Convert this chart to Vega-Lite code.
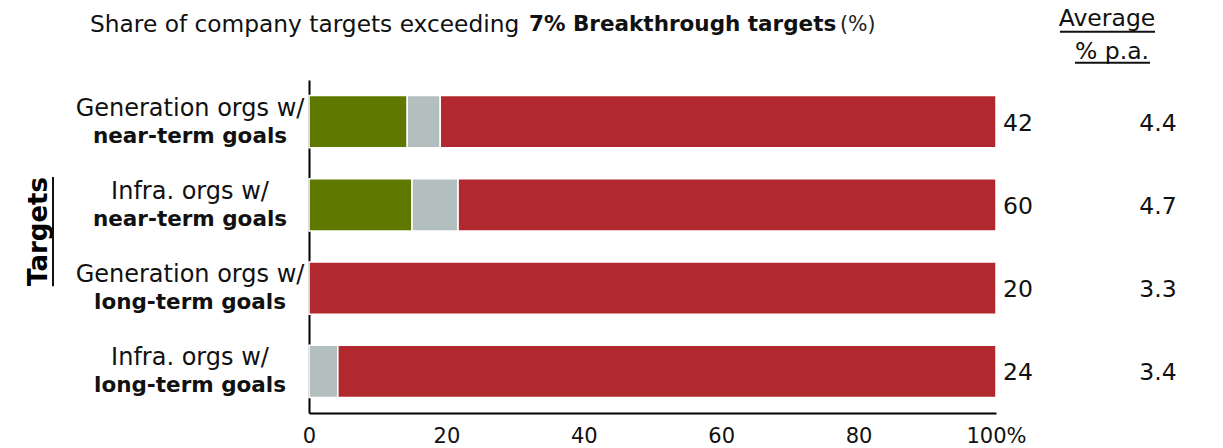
{
  "$schema": "https://vega.github.io/schema/vega-lite/v6.json",
  "width": 687,
  "height": 333,
  "autosize": {"type": "none"},
  "padding": {"left": 309, "top": 80, "right": 227, "bottom": 35},
  "background": "white",
  "config": {
    "view": {"stroke": null},
    "font": "DejaVu Sans",
    "text": {"font": "DejaVu Sans", "fontSize": 23.5, "color": "#111111"}
  },
  "datasets": {
    "segments": [
      {"target": "Generation orgs w/ near-term goals", "segment": "Exceeding 7%", "k": 1, "share": 14.3},
      {"target": "Generation orgs w/ near-term goals", "segment": "Around 7%", "k": 2, "share": 4.8},
      {"target": "Generation orgs w/ near-term goals", "segment": "Below 7%", "k": 3, "share": 80.9},
      {"target": "Infra. orgs w/ near-term goals", "segment": "Exceeding 7%", "k": 1, "share": 15.0},
      {"target": "Infra. orgs w/ near-term goals", "segment": "Around 7%", "k": 2, "share": 6.7},
      {"target": "Infra. orgs w/ near-term goals", "segment": "Below 7%", "k": 3, "share": 78.3},
      {"target": "Generation orgs w/ long-term goals", "segment": "Below 7%", "k": 3, "share": 100},
      {"target": "Infra. orgs w/ long-term goals", "segment": "Around 7%", "k": 2, "share": 4.2},
      {"target": "Infra. orgs w/ long-term goals", "segment": "Below 7%", "k": 3, "share": 95.8}
    ],
    "rows": [
      {"target": "Generation orgs w/ near-term goals", "line1": "Generation orgs w/", "line2": "near-term goals", "n": 42, "avg": 4.4},
      {"target": "Infra. orgs w/ near-term goals", "line1": "Infra. orgs w/", "line2": "near-term goals", "n": 60, "avg": 4.7},
      {"target": "Generation orgs w/ long-term goals", "line1": "Generation orgs w/", "line2": "long-term goals", "n": 20, "avg": 3.3},
      {"target": "Infra. orgs w/ long-term goals", "line1": "Infra. orgs w/", "line2": "long-term goals", "n": 24, "avg": 3.4}
    ],
    "header": [{"h": 1}]
  },
  "encoding": {
    "y": {
      "field": "target",
      "type": "nominal",
      "sort": ["Generation orgs w/ near-term goals", "Infra. orgs w/ near-term goals", "Generation orgs w/ long-term goals", "Infra. orgs w/ long-term goals"],
      "scale": {"paddingInner": 0.375, "paddingOuter": 0.1875},
      "axis": {
        "labels": false,
        "ticks": false,
        "domainColor": "#000000",
        "domainWidth": 2,
        "title": "Targets",
        "titleFont": "DejaVu Sans",
        "titleFontSize": 26,
        "titleFontWeight": "bold",
        "titleColor": "#000000",
        "titleAngle": -90,
        "titleAlign": "center",
        "titleBaseline": "middle",
        "titleX": -271,
        "titleY": 151
      }
    }
  },
  "layer": [
    {
      "data": {"name": "segments"},
      "mark": {"type": "bar", "stroke": "white", "strokeWidth": 1.5},
      "encoding": {
        "x": {
          "field": "share",
          "type": "quantitative",
          "stack": "zero",
          "scale": {"domain": [0, 100], "nice": false},
          "axis": {
            "values": [0, 20, 40, 60, 80, 100],
            "labelExpr": "datum.value == 100 ? '100%' : datum.label",
            "labelFlush": false,
            "labelFont": "DejaVu Sans",
            "labelFontSize": 21,
            "labelColor": "#111111",
            "labelPadding": 12,
            "ticks": false,
            "grid": false,
            "domainColor": "#000000",
            "domainWidth": 2,
            "title": null
          }
        },
        "order": {"field": "k", "type": "quantitative"},
        "color": {
          "field": "segment",
          "type": "nominal",
          "scale": {"domain": ["Exceeding 7%", "Around 7%", "Below 7%"], "range": ["#5e7800", "#b3bfbf", "#b2282f"]},
          "legend": null
        }
      }
    },
    {
      "data": {"name": "rows"},
      "mark": {"type": "text", "align": "center", "baseline": "middle", "dx": -119, "dy": -13, "fontSize": 24},
      "encoding": {"x": {"datum": 0}, "text": {"field": "line1"}}
    },
    {
      "data": {"name": "rows"},
      "mark": {"type": "text", "align": "center", "baseline": "middle", "dx": -119, "dy": 15, "fontWeight": "bold", "fontSize": 21.5},
      "encoding": {"x": {"datum": 0}, "text": {"field": "line2"}}
    },
    {
      "data": {"name": "rows"},
      "mark": {"type": "text", "align": "left", "baseline": "middle", "dx": 7, "dy": 2},
      "encoding": {"x": {"datum": 100}, "text": {"field": "n"}}
    },
    {
      "data": {"name": "rows"},
      "mark": {"type": "text", "align": "center", "baseline": "middle", "dx": 162, "dy": 2},
      "encoding": {"x": {"datum": 100}, "text": {"field": "avg", "format": ".1f"}}
    },
    {
      "data": {"name": "header"},
      "mark": {"type": "text", "align": "left", "baseline": "middle", "dx": -219, "dy": -97, "fontSize": 23.3},
      "encoding": {"x": {"datum": 0}, "y": {"datum": "Generation orgs w/ near-term goals"}, "text": {"value": "Share of company targets exceeding"}}
    },
    {
      "data": {"name": "header"},
      "mark": {"type": "text", "align": "left", "baseline": "middle", "dx": 220, "dy": -97, "fontWeight": "bold", "fontSize": 21.5},
      "encoding": {"x": {"datum": 0}, "y": {"datum": "Generation orgs w/ near-term goals"}, "text": {"value": "7% Breakthrough targets"}}
    },
    {
      "data": {"name": "header"},
      "mark": {"type": "text", "align": "left", "baseline": "middle", "dx": 531, "dy": -97, "fontSize": 20.5, "color": "#222222"},
      "encoding": {"x": {"datum": 0}, "y": {"datum": "Generation orgs w/ near-term goals"}, "text": {"value": "(%)"}}
    },
    {
      "data": {"name": "header"},
      "mark": {"type": "text", "align": "center", "baseline": "middle", "dx": 111, "dy": -103},
      "encoding": {"x": {"datum": 100}, "y": {"datum": "Generation orgs w/ near-term goals"}, "text": {"value": "Average"}}
    },
    {
      "data": {"name": "header"},
      "mark": {"type": "text", "align": "center", "baseline": "middle", "dx": 116, "dy": -70},
      "encoding": {"x": {"datum": 100}, "y": {"datum": "Generation orgs w/ near-term goals"}, "text": {"value": "% p.a."}}
    },
    {
      "data": {"name": "header"},
      "mark": {"type": "rule", "color": "#111111", "strokeWidth": 2, "xOffset": 64, "x2Offset": 159, "yOffset": -90},
      "encoding": {"x": {"datum": 100}, "x2": {"datum": 100}, "y": {"datum": "Generation orgs w/ near-term goals"}}
    },
    {
      "data": {"name": "header"},
      "mark": {"type": "rule", "color": "#111111", "strokeWidth": 2, "xOffset": 79, "x2Offset": 154, "yOffset": -59},
      "encoding": {"x": {"datum": 100}, "x2": {"datum": 100}, "y": {"datum": "Generation orgs w/ near-term goals"}}
    },
    {
      "data": {"name": "header"},
      "mark": {"type": "rule", "color": "#111111", "strokeWidth": 2, "xOffset": -256, "yOffset": -28, "y2Offset": -2},
      "encoding": {"x": {"datum": 0}, "y": {"datum": "Infra. orgs w/ near-term goals"}, "y2": {"datum": "Generation orgs w/ long-term goals"}}
    }
  ]
}
